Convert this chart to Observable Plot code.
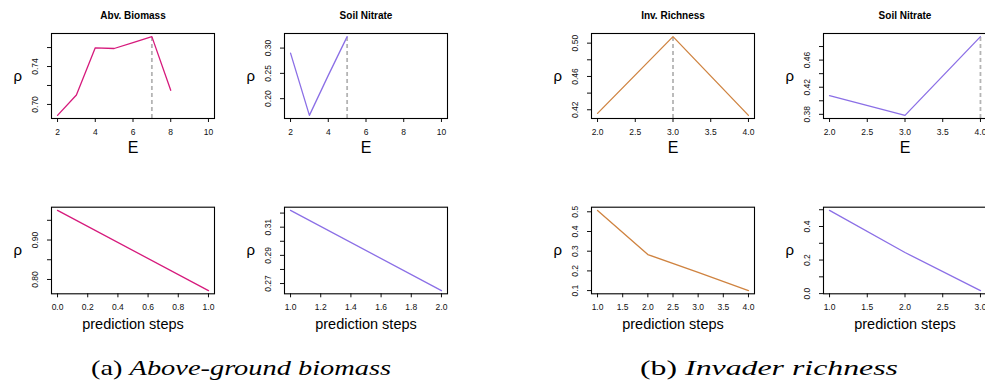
<!DOCTYPE html>
<html><head><meta charset="utf-8">
<script src="https://cdn.jsdelivr.net/npm/d3@7"></script>
<script src="https://cdn.jsdelivr.net/npm/@observablehq/plot@0.6"></script>
<style>
body{margin:0;background:#fff;}
#fig{position:relative;width:985px;height:383px;overflow:hidden;font-family:"Liberation Sans",Arial,sans-serif;background:#fff;}
.panel{position:absolute;width:234px;height:160px;}
.panel svg{max-width:none !important;}
.cap{position:absolute;top:355px;line-height:26px;font-family:"Liberation Serif","Times New Roman",serif;font-size:22px;white-space:nowrap;color:#000;transform-origin:0 50%;}
</style></head><body><div id="fig"></div><script>
// ---- data ----
const biomassE = [2, 3, 4, 5, 6, 7, 8];
const biomassRhoE = [0.6885, 0.710, 0.7597, 0.759, 0.7652, 0.7715, 0.7149];
const biomassNitrateE = [2, 3, 4, 5];
const biomassNitrateRhoE = [0.290, 0.167, 0.246, 0.3226];
const richE = [2, 3, 4];
const richRhoE = [0.4157, 0.5078, 0.4133];
const richNitrateE = [2, 3, 4];
const richNitrateRhoE = [0.4077, 0.3785, 0.4946];

const biomassSteps = [0, 1];
const biomassRhoSteps = [0.9751, 0.7718];
const biomassNitrateSteps = [1, 2];
const biomassNitrateRhoSteps = [0.3219, 0.265];
const richSteps = [1, 2, 3, 4];
const richRhoSteps = [0.507, 0.283, 0.192, 0.1];
const richNitrateSteps = [1, 2, 3];
const richNitrateRhoSteps = [0.496, 0.245, 0.018];

const bestE = {biomass: 7, biomassNitrate: 5, rich: 3, richNitrate: 4};

// tick values / labels
const ticksE10 = [2, 4, 6, 8, 10];
const ticksE4 = [2.0, 2.5, 3.0, 3.5, 4.0];
const ticksSteps01 = [0.0, 0.2, 0.4, 0.6, 0.8, 1.0];
const ticksSteps12 = [1.0, 1.2, 1.4, 1.6, 1.8, 2.0];
const ticksSteps14 = [1.0, 1.5, 2.0, 2.5, 3.0, 3.5, 4.0];
const ticksSteps13 = [1.0, 1.5, 2.0, 2.5, 3.0];

const yTicks1 = [0.70, 0.72, 0.74, 0.76], yLab1 = [0.70, 0.74];
const yTicks2 = [0.20, 0.25, 0.30], yLab2 = [0.20, 0.25, 0.30];
const yTicks3 = [0.42, 0.44, 0.46, 0.48, 0.50], yLab3 = [0.42, 0.46, 0.50];
const yTicks4 = [0.38, 0.40, 0.42, 0.44, 0.46, 0.48], yLab4 = [0.38, 0.42, 0.46];
const yTicks5 = [0.80, 0.85, 0.90, 0.95], yLab5 = [0.80, 0.90];
const yTicks6 = [0.27, 0.28, 0.29, 0.30, 0.31, 0.32], yLab6 = [0.27, 0.29, 0.31];
const yTicks7 = [0.1, 0.2, 0.3, 0.4, 0.5], yLab7 = [0.1, 0.2, 0.3, 0.4, 0.5];
const yTicks8 = [0.0, 0.1, 0.2, 0.3, 0.4, 0.5], yLab8 = [0.0, 0.2, 0.4];

const pink = "#d61a7c", purple = "#8b6fe6", orange = "#cf8340";

const fig = document.getElementById("fig");
const ext = (a, b) => { const r = b - a; return [a - 0.04 * r, b + 0.04 * r]; };

function panel(o) {
  const xd = ext(o.xRange[0], o.xRange[1]);
  const yd = ext(d3.min(o.ys), d3.max(o.ys));
  const data = o.xs.map((x, i) => ({x, y: o.ys[i]}));
  const marks = [
    Plot.axisX({ticks: o.xTicks, tickSize: 4, tickPadding: 6, tickFormat: o.xFmt, fontSize: 8.5, label: null}),
    Plot.axisY({ticks: o.yTicks, tickSize: 4, tickPadding: 10, tickRotate: -90,
      tickFormat: d => o.yLabels.includes(d) ? o.yFmt(d) : "", fontSize: 8.5, label: null}),
  ];
  if (o.best != null) {
    marks.push(Plot.ruleX([o.best], {x: d => d, y1: yd[0], y2: d3.max(o.ys), stroke: "#b4b4b4", strokeWidth: 1.8, strokeDasharray: "4,3"}));
  }
  marks.push(
    Plot.line(data, {x: "x", y: "y", stroke: o.color, strokeWidth: 1.3}),
    Plot.frame({stroke: "#000", strokeWidth: 1.1}),
    Plot.text([o.xlabel], {frameAnchor: "bottom", dy: o.xlabel === "E" ? 34 : 35, fontSize: o.xlabel === "E" ? 16 : 14.5, fill: "#000"}),
    Plot.text(["ρ"], {frameAnchor: "left", dx: -38, fontSize: 15, fill: "#000"})
  );
  if (o.title) marks.push(Plot.text([o.title], {frameAnchor: "top", dy: -22, fontSize: 10, fontWeight: "bold", fill: "#000"}));
  const top = o.row === 0;
  const svg = Plot.plot({
    width: 234,
    height: 160,
    marginLeft: 51, marginRight: 20,
    marginTop: top ? 33 : 26.7,
    marginBottom: top ? 42 : 46.7,
    x: {domain: xd},
    y: {domain: yd},
    style: {fontFamily: '"Liberation Sans", Arial, sans-serif', color: "#111", background: "transparent", overflow: "visible", maxWidth: "none"},
    marks
  });
  const wrap = document.createElement("div");
  wrap.className = "panel";
  wrap.style.left = (o.boxLeft - 51) + "px";
  wrap.style.top = (top ? 0 : 180) + "px";
  wrap.appendChild(svg);
  fig.appendChild(wrap);
}

const f1 = d3.format(".1f"), f2 = d3.format(".2f"), f0 = d3.format("d");
const cols = [51, 284, 590.7, 823.3];

panel({row: 0, boxLeft: cols[0], title: "Abv. Biomass", xs: biomassE, ys: biomassRhoE, xRange: [2, 10], xTicks: ticksE10, xFmt: f0,
  yTicks: yTicks1, yLabels: yLab1, yFmt: f2, color: pink, best: bestE.biomass, xlabel: "E"});
panel({row: 0, boxLeft: cols[1], title: "Soil Nitrate", xs: biomassNitrateE, ys: biomassNitrateRhoE, xRange: [2, 10], xTicks: ticksE10, xFmt: f0,
  yTicks: yTicks2, yLabels: yLab2, yFmt: f2, color: purple, best: bestE.biomassNitrate, xlabel: "E"});
panel({row: 0, boxLeft: cols[2], title: "Inv. Richness", xs: richE, ys: richRhoE, xRange: [2, 4], xTicks: ticksE4, xFmt: f1,
  yTicks: yTicks3, yLabels: yLab3, yFmt: f2, color: orange, best: bestE.rich, xlabel: "E"});
panel({row: 0, boxLeft: cols[3], title: "Soil Nitrate", xs: richNitrateE, ys: richNitrateRhoE, xRange: [2, 4], xTicks: ticksE4, xFmt: f1,
  yTicks: yTicks4, yLabels: yLab4, yFmt: f2, color: purple, best: bestE.richNitrate, xlabel: "E"});

panel({row: 1, boxLeft: cols[0], xs: biomassSteps, ys: biomassRhoSteps, xRange: [0, 1], xTicks: ticksSteps01, xFmt: f1,
  yTicks: yTicks5, yLabels: yLab5, yFmt: f2, color: pink, xlabel: "prediction steps"});
panel({row: 1, boxLeft: cols[1], xs: biomassNitrateSteps, ys: biomassNitrateRhoSteps, xRange: [1, 2], xTicks: ticksSteps12, xFmt: f1,
  yTicks: yTicks6, yLabels: yLab6, yFmt: f2, color: purple, xlabel: "prediction steps"});
panel({row: 1, boxLeft: cols[2], xs: richSteps, ys: richRhoSteps, xRange: [1, 4], xTicks: ticksSteps14, xFmt: f1,
  yTicks: yTicks7, yLabels: yLab7, yFmt: f1, color: orange, xlabel: "prediction steps"});
panel({row: 1, boxLeft: cols[3], xs: richNitrateSteps, ys: richNitrateRhoSteps, xRange: [1, 3], xTicks: ticksSteps13, xFmt: f1,
  yTicks: yTicks8, yLabels: yLab8, yFmt: f1, color: purple, xlabel: "prediction steps"});

function caption(left, right, tag, text) {
  const d = document.createElement("div");
  d.className = "cap";
  d.innerHTML = tag + " <i></i>";
  d.querySelector("i").textContent = text;
  fig.appendChild(d);
  const w = d.getBoundingClientRect().width;
  d.style.left = left + "px";
  d.style.transform = "scaleX(" + ((right - left) / w) + ")";
}
caption(91, 391, "(a)", "Above-ground biomass");
caption(640, 898, "(b)", "Invader richness");
</script></body></html>
